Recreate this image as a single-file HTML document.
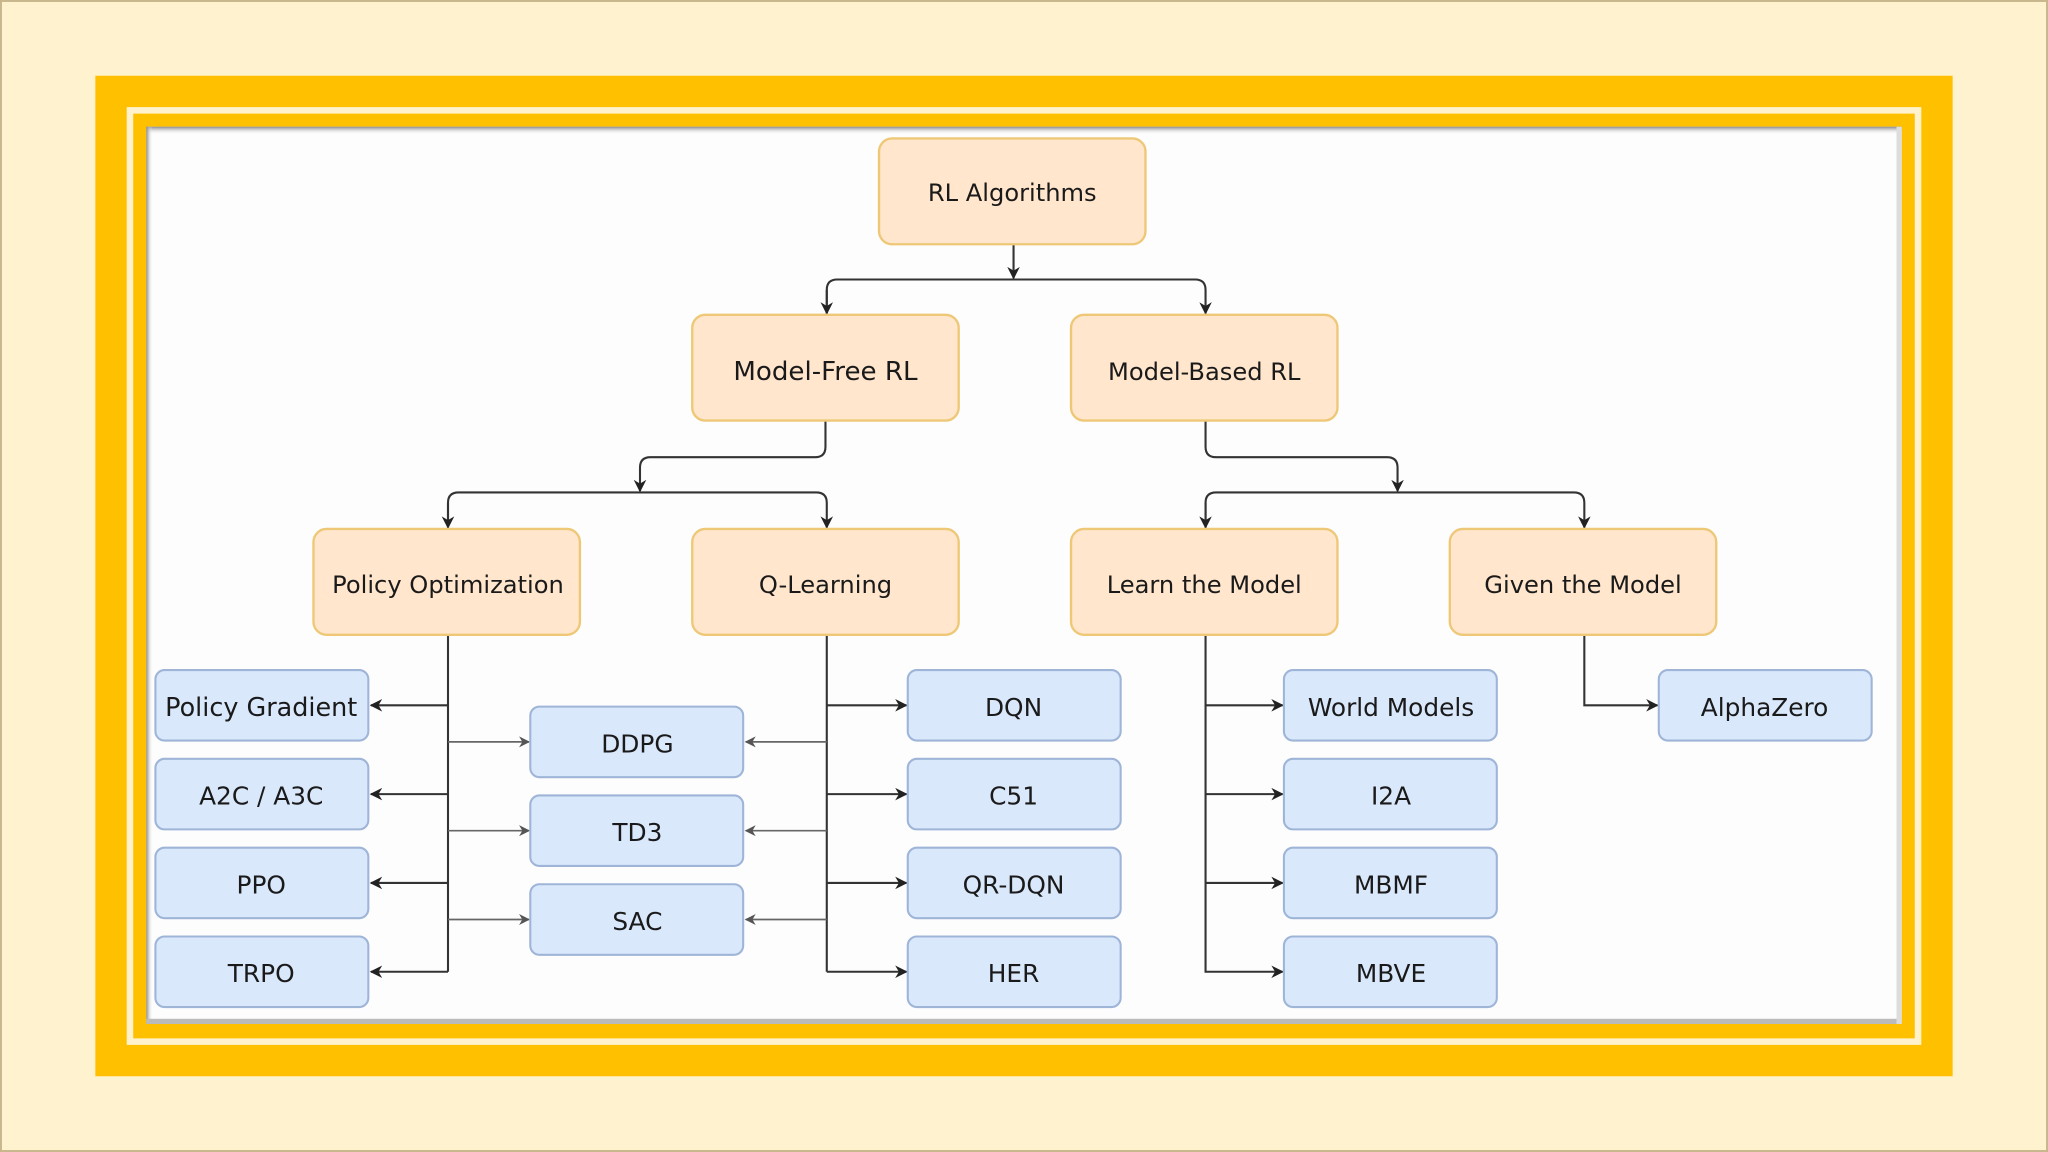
<!DOCTYPE html>
<html><head><meta charset="utf-8"><style>
html,body{margin:0;padding:0;background:#fff2cf;}
svg{display:block}
text{font-family:"DejaVu Sans","Liberation Sans",sans-serif;fill:#1a1a1a;}
</style></head><body>
<svg width="2048" height="1152" viewBox="0 0 1568 882" xmlns="http://www.w3.org/2000/svg">
<defs>
<marker id="a" viewBox="0 0 10 10" refX="9" refY="5" markerWidth="6" markerHeight="6" orient="auto"><path d="M0,0 L10,5 L0,10 L3,5 z" fill="#222"/></marker>
<marker id="g" viewBox="0 0 10 10" refX="9" refY="5" markerWidth="6.5" markerHeight="6.5" orient="auto"><path d="M0,0 L10,5 L0,10 L3,5 z" fill="#555"/></marker>
<linearGradient id="sh" x1="0" y1="0" x2="0" y2="1"><stop offset="0" stop-color="#888"/><stop offset="1" stop-color="#fff" stop-opacity="0"/></linearGradient>
<linearGradient id="shl" x1="0" y1="0" x2="1" y2="0"><stop offset="0" stop-color="#888"/><stop offset="1" stop-color="#fff" stop-opacity="0"/></linearGradient>
</defs>
<rect x="0.5" y="0.5" width="1567" height="881" fill="#fff2cf" stroke="#c8b68c" stroke-width="2"/>
<rect x="73" y="58" width="1422" height="766" fill="#ffc000"/>
<rect x="99.5" y="84.5" width="1369" height="713" fill="none" stroke="#fff2cc" stroke-width="5"/>
<rect x="112" y="97" width="1344" height="687" fill="#fdfdfd"/>
<rect x="112" y="97" width="1344" height="6" fill="url(#sh)"/>
<rect x="112" y="97" width="5" height="687" fill="url(#shl)"/>
<rect x="112" y="780" width="1344" height="4" fill="#bbb"/>
<rect x="1452" y="97" width="4" height="687" fill="#ddd"/>

<g fill="none" stroke="#333" stroke-width="1.6">
<path d="M776,187 V213" marker-end="url(#a)"/>
<path d="M633,240 V222 Q633,214 641,214 H915 Q923,214 923,222 V240" marker-end="url(#a)"/>
<path d="M633,222 V240" marker-end="url(#a)"/>
<path d="M632,322 V342 Q632,350 624,350 H498 Q490,350 490,358 V376" marker-end="url(#a)"/>
<path d="M343,404 V385 Q343,377 351,377 H625 Q633,377 633,385 V404" marker-end="url(#a)"/>
<path d="M343,385 V404" marker-end="url(#a)"/>
<path d="M923,322 V342 Q923,350 931,350 H1062 Q1070,350 1070,358 V376" marker-end="url(#a)"/>
<path d="M923,404 V385 Q923,377 931,377 H1205 Q1213,377 1213,385 V404" marker-end="url(#a)"/>
<path d="M923,385 V404" marker-end="url(#a)"/>
<path d="M343,486 V744"/>
<path d="M343,540 H284" marker-end="url(#a)"/>
<path d="M343,608 H284" marker-end="url(#a)"/>
<path d="M343,676 H284" marker-end="url(#a)"/>
<path d="M343,744 H284" marker-end="url(#a)"/>
<path d="M633,486 V744"/>
<path d="M633,540 H694" marker-end="url(#a)"/>
<path d="M633,608 H694" marker-end="url(#a)"/>
<path d="M633,676 H694" marker-end="url(#a)"/>
<path d="M633,744 H694" marker-end="url(#a)"/>
<path d="M923,486 V744 H982" marker-end="url(#a)"/>
<path d="M923,540 H982" marker-end="url(#a)"/>
<path d="M923,608 H982" marker-end="url(#a)"/>
<path d="M923,676 H982" marker-end="url(#a)"/>
<path d="M1213,486 V540 H1269" marker-end="url(#a)"/>
</g>
<g fill="none" stroke="#666" stroke-width="1.3">
<path d="M343,568 H405" marker-end="url(#g)"/>
<path d="M343,636 H405" marker-end="url(#g)"/>
<path d="M343,704 H405" marker-end="url(#g)"/>
<path d="M633,568 H571" marker-end="url(#g)"/>
<path d="M633,636 H571" marker-end="url(#g)"/>
<path d="M633,704 H571" marker-end="url(#g)"/>
</g>

<g fill="#ffe6cc" stroke="#eec877" stroke-width="1.8">
<rect x="673" y="106" width="204" height="81" rx="10"/>
<rect x="530" y="241" width="204" height="81" rx="10"/>
<rect x="820" y="241" width="204" height="81" rx="10"/>
<rect x="240" y="405" width="204" height="81" rx="10"/>
<rect x="530" y="405" width="204" height="81" rx="10"/>
<rect x="820" y="405" width="204" height="81" rx="10"/>
<rect x="1110" y="405" width="204" height="81" rx="10"/>
</g>
<g fill="#dae8fc" stroke="#9fb5d8" stroke-width="1.6">
<rect x="119" y="513" width="163" height="54" rx="7"/>
<rect x="119" y="581" width="163" height="54" rx="7"/>
<rect x="119" y="649" width="163" height="54" rx="7"/>
<rect x="119" y="717" width="163" height="54" rx="7"/>
<rect x="406" y="541" width="163" height="54" rx="7"/>
<rect x="406" y="609" width="163" height="54" rx="7"/>
<rect x="406" y="677" width="163" height="54" rx="7"/>
<rect x="695" y="513" width="163" height="54" rx="7"/>
<rect x="695" y="581" width="163" height="54" rx="7"/>
<rect x="695" y="649" width="163" height="54" rx="7"/>
<rect x="695" y="717" width="163" height="54" rx="7"/>
<rect x="983" y="513" width="163" height="54" rx="7"/>
<rect x="983" y="581" width="163" height="54" rx="7"/>
<rect x="983" y="649" width="163" height="54" rx="7"/>
<rect x="983" y="717" width="163" height="54" rx="7"/>
<rect x="1270" y="513" width="163" height="54" rx="7"/>
</g>
<g text-anchor="middle" font-size="19">
<text x="775" y="154" font-size="18.5">RL Algorithms</text>
<text x="632" y="291" font-size="20">Model-Free RL</text>
<text x="922" y="291" font-size="18.5">Model-Based RL</text>
<text x="343" y="454" font-size="18.5">Policy Optimization</text>
<text x="632" y="454" font-size="18.5">Q-Learning</text>
<text x="922" y="454" font-size="18.5">Learn the Model</text>
<text x="1212" y="454" font-size="18.5">Given the Model</text>
<text x="200" y="548" font-size="19.5">Policy Gradient</text>
<text x="200" y="616">A2C / A3C</text>
<text x="200" y="684">PPO</text>
<text x="200" y="752">TRPO</text>
<text x="488" y="576">DDPG</text>
<text x="488" y="644">TD3</text>
<text x="488" y="712">SAC</text>
<text x="776" y="548">DQN</text>
<text x="776" y="616">C51</text>
<text x="776" y="684">QR-DQN</text>
<text x="776" y="752">HER</text>
<text x="1065" y="548">World Models</text>
<text x="1065" y="616">I2A</text>
<text x="1065" y="684">MBMF</text>
<text x="1065" y="752">MBVE</text>
<text x="1351" y="548">AlphaZero</text>
</g>
</svg>
</body></html>
